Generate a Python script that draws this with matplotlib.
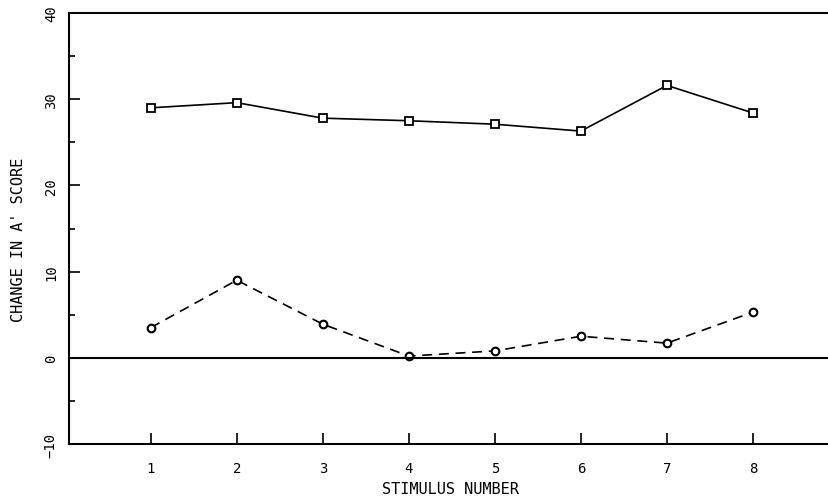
import matplotlib.pyplot as plt

estimulos = [1, 2, 3, 4, 5, 6, 7, 8]
cuadrados = [29.0, 29.6, 27.8, 27.5, 27.1, 26.3, 31.6, 28.4]
circulos = [3.5, 9.0, 3.9, 0.2, 0.8, 2.5, 1.7, 5.3]
yticks_mayores = [-10, 0, 10, 20, 30, 40]
yticks_menores = [-5, 5, 15, 25, 35]

plt.rcParams['font.family'] = ['DejaVu Sans Mono']

fig = plt.figure(figsize=(8.29, 5.02), dpi=100)
ax = fig.add_axes([69 / 829, 57 / 502, 770 / 829, 431 / 502])

ax.plot(estimulos, cuadrados, color="black", lw=1.2, marker="s", ms=5.5,
        mfc="white", mec="black", mew=1.3)
ax.plot(estimulos, circulos, color="black", lw=1.2, ls=(0, (6, 4)), marker="o",
        ms=5.5, mfc="white", mec="black", mew=1.5)
ax.axhline(0, color="black", lw=1.5)

ax.set_xlim(0.05, 9)
ax.set_ylim(-10, 40)
ax.set_xticks(estimulos)
ax.set_yticks(yticks_mayores)
ax.set_yticks(yticks_menores, minor=True)
ax.tick_params(axis="both", direction="in", length=8, width=1.2, labelsize=10)
ax.tick_params(axis="y", which="minor", direction="in", length=4, width=1.2)
ax.tick_params(axis="x", pad=12)
ax.tick_params(axis="y", pad=8)
for lbl in ax.get_yticklabels():
    lbl.set_rotation(90)
    lbl.set_va("center")

for lado in ["left", "bottom", "top"]:
    ax.spines[lado].set_linewidth(1.5)
ax.spines["right"].set_visible(False)

ax.set_xlabel("STIMULUS NUMBER", fontsize=11, va="center")
ax.xaxis.set_label_coords(0.495, -0.104)
ax.set_ylabel("CHANGE IN A' SCORE", fontsize=11, va="center")
ax.yaxis.set_label_coords(-0.066, 0.476)

fig.savefig("out.png", dpi=100)
